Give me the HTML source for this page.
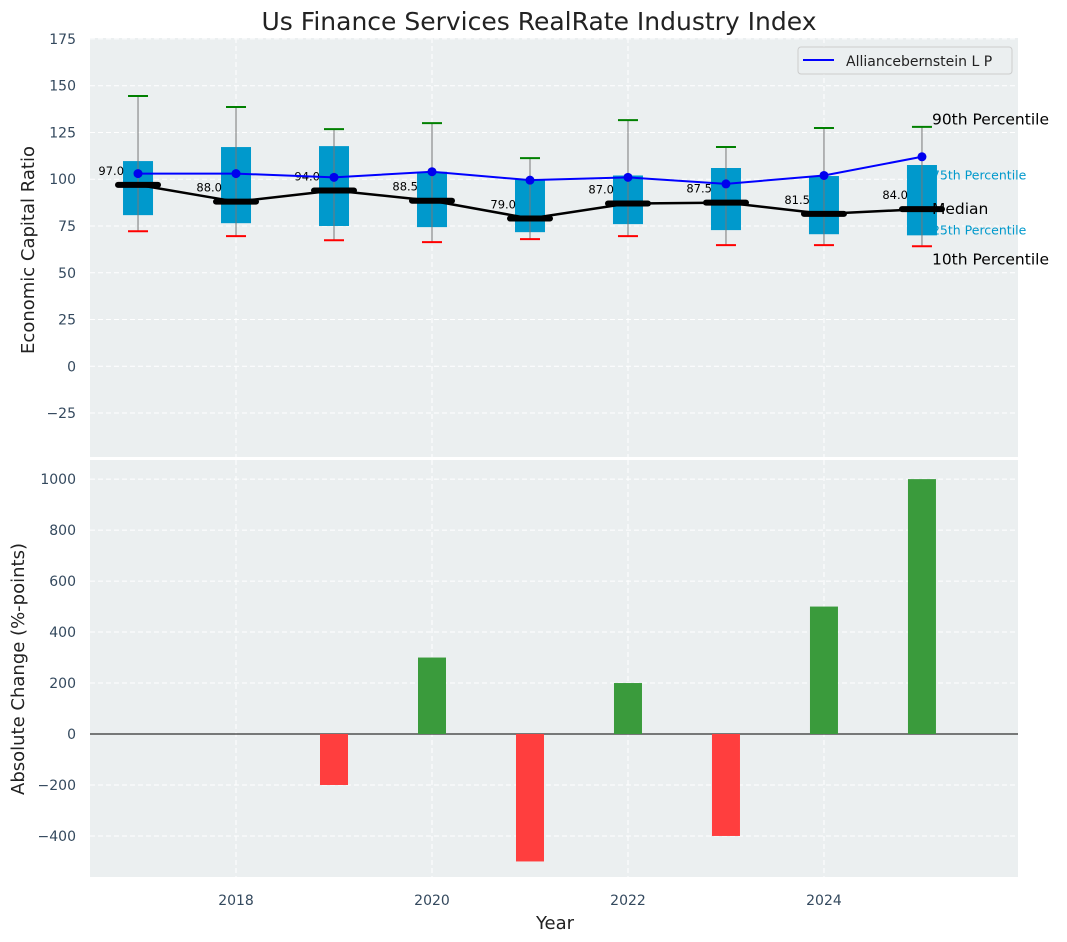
<!DOCTYPE html>
<html><head><meta charset="utf-8"><style>
body{margin:0;background:#fff;}
svg{display:block;font-family:"DejaVu Sans","Liberation Sans",sans-serif;}
</style></head><body>
<svg id="c" width="1067" height="942" xmlns="http://www.w3.org/2000/svg"></svg>
<script>
const years=[2017,2018,2019,2020,2021,2022,2023,2024,2025];
const p90=[144.5,138.6,126.8,130,111.3,131.6,117.2,127.4,128];
const p75=[109.7,117.2,117.7,104,100,102,106,101.7,107.6];
const median=[97,88,94,88.5,79,87,87.5,81.5,84];
const p25=[80.8,76.5,75,74.4,71.7,76,72.8,70.6,70];
const p10=[72.2,69.6,67.4,66.4,68,69.6,64.8,64.8,64.2];
const company=[103,103,101,104,99.5,101,97.5,102,112];
const changes=[0,0,-200,300,-500,200,-400,500,1000];
const topTicks=[-25,0,25,50,75,100,125,150,175];
const botTicks=[-400,-200,0,200,400,600,800,1000];
const xTicks=[2018,2020,2022,2024];

const NS="http://www.w3.org/2000/svg";
const svg=document.getElementById('c');
function el(tag,attrs,parent,text){const e=document.createElementNS(NS,tag);for(const k in attrs)e.setAttribute(k,attrs[k]);if(text!==undefined)e.textContent=text;(parent||svg).appendChild(e);return e;}
const fmt=v=>v<0?'\u2212'+Math.abs(v):String(v);
const L=90,R=1018;
const x=v=>L+(v-2016.51)/(2025.98-2016.51)*(R-L);
const T1=38,B1=457,T2=460,B2=877;
const y1=v=>T1+(175.5-v)/(175.5-(-48.5))*(B1-T1);
const y2=v=>T2+(1075-v)/(1075-(-561))*(B2-T2);

let g=el('rect',{x:L,y:T1,width:R-L,height:B1-T1,fill:'#ebeff0'});

g=el('rect',{x:L,y:T2,width:R-L,height:B2-T2,fill:'#ebeff0'});


xTicks.forEach(t=>{
  let a=el('line',{x1:x(t),x2:x(t),y1:T1,y2:B1,stroke:'#fff','stroke-dasharray':'5,3','stroke-width':1});
  
  a=el('line',{x1:x(t),x2:x(t),y1:T2,y2:B2,stroke:'#fff','stroke-dasharray':'5,3','stroke-width':1});
  
  const lb=el('text',{x:x(t),y:905,'text-anchor':'middle','font-size':14,fill:'#34495e'},svg,t);
  
});
topTicks.forEach(t=>{
  const a=el('line',{x1:L,x2:R,y1:y1(t),y2:y1(t),stroke:'#fff','stroke-dasharray':'5,3','stroke-width':1});
  
  const lb=el('text',{x:76,y:y1(t)+5,'text-anchor':'end','font-size':14,fill:'#34495e'},svg,fmt(t));
  
});
botTicks.forEach(t=>{
  const a=el('line',{x1:L,x2:R,y1:y2(t),y2:y2(t),stroke:'#fff','stroke-dasharray':'5,3','stroke-width':1});
  
  const lb=el('text',{x:76,y:y2(t)+5,'text-anchor':'end','font-size':14,fill:'#34495e'},svg,fmt(t));
  
});

years.forEach((yr,i)=>{
  const cx=x(yr);
  let b=el('rect',{x:cx-15,y:y1(p75[i]),width:30,height:y1(p25[i])-y1(p75[i]),fill:'#0099cc'});
  
  b=el('line',{x1:cx,x2:cx,y1:y1(p90[i]),y2:y1(p10[i]),stroke:'#777','stroke-width':1});
  
  b=el('line',{x1:cx-10,x2:cx+10,y1:y1(p90[i]),y2:y1(p90[i]),stroke:'green','stroke-width':2});
  
  b=el('line',{x1:cx-10,x2:cx+10,y1:y1(p10[i]),y2:y1(p10[i]),stroke:'red','stroke-width':2});
  
});
let ml=el('polyline',{points:years.map((yr,i)=>x(yr)+','+y1(median[i])).join(' '),fill:'none',stroke:'#000','stroke-width':2.5});

years.forEach((yr,i)=>{
  const cx=x(yr);
  let m=el('line',{x1:cx-20,x2:cx+20,y1:y1(median[i]),y2:y1(median[i]),stroke:'#000','stroke-width':6,'stroke-linecap':'round'});
  
  m=el('text',{x:cx-14,y:y1(median[i])-10,'text-anchor':'end','font-size':11.5,fill:'#000'},svg,median[i].toFixed(1));
  
});
let cl=el('polyline',{points:years.map((yr,i)=>x(yr)+','+y1(company[i])).join(' '),fill:'none',stroke:'#0000ff','stroke-width':2});

years.forEach((yr,i)=>{
  const d=el('circle',{cx:x(yr),cy:y1(company[i]),r:4.5,fill:'#0000ee'});
  
});
const last=years.length-1,ax=x(years[last])+10;
[['90th Percentile',p90[last]+4,'#000',15.5],['75th Percentile',p75[last]-5,'#0099cc',12.5],['Median',median[last],'#000',15.5],['25th Percentile',p25[last]+3,'#0099cc',12.5],['10th Percentile',p10[last]-7,'#000',15.5]].forEach(a=>{
  const t=el('text',{x:ax,y:y1(a[1])+5,'font-size':a[3],fill:a[2]},svg,a[0]);
  
});
const lg=el('g',{});

el('rect',{x:798,y:47,width:214,height:27,rx:3,fill:'#ebeff0',stroke:'#ccc'},lg);
el('line',{x1:803,x2:834,y1:60,y2:60,stroke:'#0000ff','stroke-width':2},lg);
el('text',{x:846,y:66,'font-size':14,fill:'#222'},lg,'Alliancebernstein L P');

const zl=el('line',{x1:L,x2:R,y1:y2(0),y2:y2(0),stroke:'#000','stroke-width':1});

years.forEach((yr,i)=>{
  const v=changes[i];if(v===0)return;
  const b=el('rect',{x:x(yr)-14,y:Math.min(y2(v),y2(0)),width:28,height:Math.abs(y2(v)-y2(0)),fill:v>0?'#3a9b3c':'#ff3e3e'});
  
});

let t=el('text',{x:539,y:30,'text-anchor':'middle','font-size':25,fill:'#222'},svg,'Us Finance Services RealRate Industry Index');

t=el('text',{x:555,y:929,'text-anchor':'middle','font-size':18,fill:'#222'},svg,'Year');

t=el('text',{x:0,y:0,'text-anchor':'middle','font-size':18,fill:'#222',transform:'translate(34,250) rotate(-90)'},svg,'Economic Capital Ratio');

t=el('text',{x:0,y:0,'text-anchor':'middle','font-size':18,fill:'#222',transform:'translate(24,669) rotate(-90)'},svg,'Absolute Change (%-points)');

</script>
</body></html>
